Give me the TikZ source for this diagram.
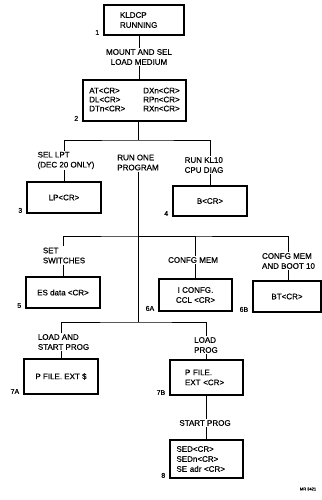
\documentclass[tikz,border=0pt]{standalone}
\usepackage{fontspec}
\setmainfont{Liberation Sans}[FakeBold=0.5]
\usetikzlibrary{positioning}

\begin{document}
\begin{tikzpicture}[x=1pt, y=-1pt,
    stepBox/.style={draw=black, line width=1.2pt, font=\fontsize{8}{10}\selectfont, align=center, minimum width=74pt, minimum height=31pt, inner sep=2pt},
    stepText/.style={font=\fontsize{8}{10}\selectfont, align=left, inner sep=1pt},
    numLabel/.style={font=\fontsize{7}{8}\selectfont, anchor=south east, inner sep=0pt, xshift=-4pt, yshift=0.5pt},
    lineStyle/.style={draw=black, line width=0.8pt}
]
    \useasboundingbox (0,0) rectangle (321,500);

    % boxes
    \node[stepBox, minimum width=80pt, minimum height=30pt, align=left, text width=48pt] (kldcp) at (144,20) {KLDCP\\RUNNING};
    \node[stepBox, minimum width=103pt, minimum height=41pt] (loadCmd) at (134.5,100.5) {%
        \renewcommand{\arraystretch}{0.9}%
        \begin{tabular}{@{}l@{\hspace{18pt}}l@{}}
            AT<CR> & DXn<CR>\\
            DL<CR> & RPn<CR>\\
            DTn<CR> & RXn<CR>
        \end{tabular}};
    \node[stepBox] (lptBox) at (64,197.5) {LP<CR>};
    \node[stepBox, minimum height=30pt] (diagBox) at (210,201) {B<CR>};
    \node[stepBox] (switchBox) at (63,292.5) {ES data <CR>};
    \node[stepBox, minimum width=73pt, minimum height=32pt] (cfgBox) at (195.5,295) {I CONFG.\\CCL <CR>};
    \node[stepBox, minimum width=68pt] (bootBox) at (287,296.5) {BT<CR>};
    \node[stepBox, minimum height=35pt] (startBox) at (61,376.5) {P FILE. EXT \$};
    \node[stepBox, minimum width=73pt, minimum height=35pt, align=left, text width=43pt] (loadBox) at (206.5,377.5) {P FILE.\\EXT <CR>};
    \node[stepBox, minimum width=73pt, minimum height=38pt, align=left, text width=60pt] (runBox) at (206.5,459) {SED<CR>\\SEDn<CR>\\SE adr <CR>};

    % step numbers
    \node[numLabel] (num1) at (kldcp.south west) {1};
    \node[numLabel] (num2) at (loadCmd.south west) {2};
    \node[numLabel] (num3) at (lptBox.south west) {3};
    \node[numLabel] (num4) at (diagBox.south west) {4};
    \node[numLabel] (num5) at (switchBox.south west) {5};
    \node[numLabel] (num6a) at (cfgBox.south west) {6A};
    \node[numLabel] (num6b) at (bootBox.south west) {6B};
    \node[numLabel] (num7a) at (startBox.south west) {7A};
    \node[numLabel] (num7b) at (loadBox.south west) {7B};
    \node[numLabel] (num8) at (runBox.south west) {8};

    % connector texts
    \node[stepText, align=center] (mountText) at (139,57) {MOUNT AND SEL\\LOAD MEDIUM};
    \node[stepText] (selText) at (66,160.5) {SEL LPT\\(DEC 20 ONLY)};
    \node[stepText] (runText) at (138,162.5) {RUN ONE\\PROGRAM};
    \node[stepText] (klText) at (204,165) {RUN KL10\\CPU DIAG};
    \node[stepText] (setText) at (64,255.5) {SET\\SWITCHES};
    \node[stepText] (cfgText) at (193,260) {CONFG MEM};
    \node[stepText] (bootText) at (288.5,261) {CONFG MEM\\AND BOOT 10};
    \node[stepText] (loadStartText) at (63.5,342) {LOAD AND\\START PROG};
    \node[stepText] (loadText) at (206,345) {LOAD\\PROG};
    \node[stepText] (startText) at (205,423) {START PROG};

    \node[font=\fontsize{4}{5}\selectfont, inner sep=0pt] (mrText) at (308,489) {MR 3421};

    \coordinate (forkA) at (138,140);
    \coordinate (forkB) at (138,236);
    \coordinate (forkC) at (138,322);

    % top
    \draw[lineStyle] (mountText.north |- kldcp.south) -- (mountText.north);
    \draw[lineStyle] (mountText.south) -- (mountText.south |- loadCmd.north);
    \draw[lineStyle] (forkA |- loadCmd.south) -- (forkA);

    % first fork
    \draw[lineStyle] (selText.north -| lptBox.north) |- (forkA) -| (klText.north -| diagBox.north);
    \draw[lineStyle] (selText.south -| lptBox.north) -- (lptBox.north);
    \draw[lineStyle] (klText.south -| diagBox.north) -- (diagBox.north);
    \draw[lineStyle] (runText.south -| forkC) -- (forkC);

    % second fork
    \draw[lineStyle] (setText.north -| switchBox.north) |- (forkB) -| (bootText.north);
    \draw[lineStyle] (forkB) -| (cfgText.north -| cfgBox.north);
    \draw[lineStyle] (setText.south -| switchBox.north) -- (switchBox.north);
    \draw[lineStyle] (cfgText.south -| cfgBox.north) -- (cfgBox.north);
    \draw[lineStyle] (bootText.south) -- (bootText.south |- bootBox.north);

    % third fork
    \draw[lineStyle] (loadStartText.north -| startBox.north) |- (forkC) -| (loadText.north -| loadBox.north);
    \draw[lineStyle] (loadStartText.south -| startBox.north) -- (startBox.north);
    \draw[lineStyle] (loadText.south -| loadBox.north) -- (loadBox.north);
    \draw[lineStyle] (loadBox.south) -- (startText.north -| loadBox.south);
    \draw[lineStyle] (startText.south -| runBox.north) -- (runBox.north);
\end{tikzpicture}
\end{document}
